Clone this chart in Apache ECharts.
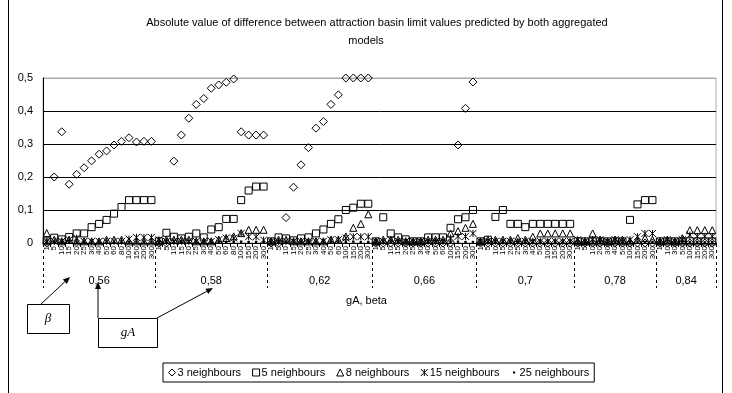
<!DOCTYPE html>
<html><head><meta charset="utf-8">
<script src="https://cdn.jsdelivr.net/npm/echarts@6/dist/echarts.min.js"></script>
<style>
html,body{margin:0;padding:0;background:#fff;}
#frame{position:absolute;left:8px;top:-2px;width:715px;height:400px;border-left:1px solid #000;border-right:1px solid #000;box-sizing:border-box;}
#chart{position:absolute;left:0;top:0;width:732px;height:393px;}
</style></head><body>
<div id="frame"></div><div id="chart"></div>
<script>
// ---- data ----
const groupLabels = ['0,56', '0,58', '0,62', '0,66', '0,7', '0,78', '0,84'];
const beta056 = ['1','5','10','15','20','25','30','40','50','60','80','100','150','200','300'];
const beta058 = ['1','5','10','15','20','25','30','40','50','60','80','100','150','200','300'];
const beta062 = ['1','5','10','15','20','25','30','40','50','60','100','150','200','300'];
const beta066 = ['1','5','10','15','20','25','30','40','50','60','100','150','200','300'];
const beta070 = ['1','5','10','15','20','25','30','40','50','100','150','200','300'];
const beta078 = ['1','5','10','20','30','40','50','100','150','200','300'];
const beta084 = ['1','10','30','50','100','150','200','300'];
const betaByGroup = [beta056, beta058, beta062, beta066, beta070, beta078, beta084];

const neighbours3 = [
  0, 0.20, 0.337, 0.178, 0.208, 0.228, 0.249, 0.269, 0.279, 0.297, 0.308, 0.319, 0.306, 0.308, 0.308,
  0, 0, 0.248, 0.327, 0.378, 0.42, 0.438, 0.469, 0.479, 0.487, 0.497, 0.337, 0.327, 0.327, 0.327,
  0, 0, 0.077, 0.169, 0.237, 0.289, 0.348, 0.368, 0.42, 0.449, 0.5, 0.5, 0.5, 0.5,
  0, 0, 0, 0, 0, 0, 0, 0, 0, 0, 0, 0.297, 0.408, 0.488,
  0, 0, 0, 0, 0, 0, 0, 0, 0, 0, 0, 0, 0,
  0, 0, 0, 0, 0, 0, 0, 0, 0, 0, 0,
  0, 0, 0, 0, 0, 0, 0, 0
];
const neighbours5 = [
  0.005, 0.016, 0.011, 0.018, 0.029, 0.029, 0.048, 0.058, 0.07, 0.089, 0.109, 0.13, 0.13, 0.13, 0.13,
  0.005, 0.031, 0.019, 0.014, 0.019, 0.029, 0.017, 0.041, 0.048, 0.073, 0.073, 0.13, 0.159, 0.171, 0.171,
  0.005, 0.017, 0.014, 0.008, 0.014, 0.017, 0.029, 0.041, 0.058, 0.072, 0.1, 0.107, 0.119, 0.119,
  0.005, 0.078, 0.029, 0.017, 0.011, 0.005, 0.005, 0.017, 0.017, 0.017, 0.046, 0.072, 0.078, 0.1,
  0.005, 0.01, 0.079, 0.1, 0.058, 0.058, 0.048, 0.058, 0.058, 0.058, 0.058, 0.058, 0.058,
  0.005, 0.005, 0.005, 0.005, 0.005, 0.005, 0.005, 0.07, 0.117, 0.13, 0.13,
  0.005, 0.005, 0.005, 0.005, 0.005, 0.005, 0.005, 0.005
];
const neighbours8 = [
  0.03, 0.01, 0.005, 0.01, 0.005, 0.005, 0.005, 0.005, 0.01, 0.01, 0.01, 0.005, 0.005, 0.005, 0.005,
  0.005, 0.01, 0.01, 0.01, 0.01, 0.005, 0.005, 0.005, 0.01, 0.015, 0.02, 0.03, 0.04, 0.04, 0.04,
  0.005, 0.01, 0.01, 0.005, 0.005, 0.005, 0.005, 0.005, 0.01, 0.01, 0.02, 0.046, 0.058, 0.087,
  0.005, 0.01, 0.01, 0.01, 0.005, 0.005, 0.005, 0.01, 0.01, 0.01, 0.029, 0.036, 0.046, 0.058,
  0.005, 0.01, 0.01, 0.01, 0.01, 0.015, 0.01, 0.019, 0.029, 0.029, 0.029, 0.029, 0.029,
  0.005, 0.005, 0.029, 0.01, 0.005, 0.01, 0.01, 0.005, 0.01, 0.015, 0.01,
  0.005, 0.01, 0.005, 0.015, 0.039, 0.039, 0.039, 0.039
];
const neighbours15 = [
  0.005, 0.005, 0.005, 0.01, 0.015, 0.005, 0.005, 0.005, 0.005, 0.005, 0.005, 0.012, 0.017, 0.017, 0.017,
  0.01, 0.005, 0.005, 0.005, 0.005, 0.005, 0.005, 0.005, 0.01, 0.015, 0.015, 0.029, 0.019, 0.019, 0.009,
  0.005, 0.005, 0.005, 0.005, 0.005, 0.005, 0.005, 0.005, 0.01, 0.01, 0.015, 0.019, 0.019, 0.019,
  0.005, 0.005, 0.01, 0.005, 0.005, 0.005, 0.005, 0.005, 0.005, 0.005, 0.015, 0.02, 0.02, 0.029,
  0.005, 0.005, 0.005, 0.005, 0.005, 0.005, 0.005, 0.005, 0.005, 0.005, 0.005, 0.005, 0.005,
  0.01, 0.005, 0.01, 0.01, 0.005, 0.01, 0.005, 0.01, 0.019, 0.029, 0.029,
  0.005, 0.01, 0.005, 0.01, 0.024, 0.02, 0.02, 0.02
];
const neighbours25 = [
  0.004, 0.003, 0.003, 0.002, 0.003, 0.003, 0.002, 0.003, 0.003, 0.003, 0.002, 0.003, 0.003, 0.004, 0.003,
  0.003, 0.003, 0.002, 0.003, 0.003, 0.002, 0.003, 0.003, 0.003, 0.002, 0.003, 0.004, 0.003, 0.003, 0.003,
  0.003, 0.002, 0.003, 0.003, 0.003, 0.002, 0.003, 0.003, 0.003, 0.002, 0.003, 0.004, 0.003, 0.003,
  0.003, 0.003, 0.002, 0.003, 0.003, 0.002, 0.003, 0.003, 0.003, 0.002, 0.003, 0.004, 0.003, 0.003,
  0.003, 0.002, 0.003, 0.003, 0.003, 0.002, 0.003, 0.003, 0.003, 0.002, 0.003, 0.003, 0.003,
  0.003, 0.003, 0.002, 0.003, 0.003, 0.002, 0.003, 0.003, 0.004, 0.003, 0.003,
  0.003, 0.002, 0.003, 0.003, 0.003, 0.003, 0.002, 0.003
];
const seriesNames = ['3 neighbours', '5 neighbours', '8 neighbours', '15 neighbours', '25 neighbours'];

// ---- category structures built from the arrays ----
const cats = [];
const halfCats = [];
const boundarySet = new Set();
const centerLabel = {};
let start = 0;
betaByGroup.forEach((list, gi) => {
  list.forEach(b => cats.push(gi + '_' + b));
  boundarySet.add(2 * start);
  centerLabel[2 * start + list.length] = groupLabels[gi];
  start += list.length;
});
boundarySet.add(2 * start);
for (let i = 0; i <= 2 * start; i++) halfCats.push(String(i));

const FONT = 'Liberation Sans';
const BLK = '#000';
const HOLLOW = 'rgba(0,0,0,0)';

function scatter(name, data, symbol, size, fill, bw) {
  return {
    type: 'scatter', name, data, symbol, symbolSize: size,
    xAxisIndex: 0, yAxisIndex: 0, silent: true, animation: false,
    itemStyle: { color: fill, borderColor: BLK, borderWidth: bw, opacity: 1 },
    emphasis: { disabled: true }
  };
}

// annotation arrows
const arrowLines = [[41, 304, 70, 277], [98, 318, 98, 282], [157, 318, 213, 288]];
const graphics = [];
arrowLines.forEach(([x1, y1, x2, y2]) => {
  const a = Math.atan2(y2 - y1, x2 - x1), L = 7, W = 3;
  const bx = x2 - L * Math.cos(a), by = y2 - L * Math.sin(a);
  graphics.push({ type: 'line', shape: { x1, y1, x2: bx, y2: by }, style: { stroke: BLK, lineWidth: 1 } });
  graphics.push({ type: 'polygon', shape: { points: [[x2, y2], [bx + W * Math.sin(a), by - W * Math.cos(a)], [bx - W * Math.sin(a), by + W * Math.cos(a)]] }, style: { fill: BLK } });
});
graphics.push({ type: 'rect', shape: { x: 27.5, y: 304.5, width: 42, height: 29 }, style: { fill: '#fff', stroke: BLK, lineWidth: 1 } });
graphics.push({ type: 'text', x: 48, y: 319, style: { text: 'β', font: 'italic 13px "Liberation Serif"', fill: BLK, align: 'center', verticalAlign: 'middle' } });
graphics.push({ type: 'rect', shape: { x: 98.5, y: 318.5, width: 59, height: 29 }, style: { fill: '#fff', stroke: BLK, lineWidth: 1 } });
graphics.push({ type: 'text', x: 128, y: 333, style: { text: 'gA', font: 'italic 13px "Liberation Serif"', fill: BLK, align: 'center', verticalAlign: 'middle' } });

const dotPath = 'path://M0,0 M10,10 M3.5,3.5 L6.5,3.5 L6.5,6.5 L3.5,6.5 Z';
const starPath = 'path://M0,0 L10,10 M10,0 L0,10 M5,0 L5,10';
const legendStyle = { color: HOLLOW, borderColor: BLK, borderWidth: 1 };

const chart = echarts.init(document.getElementById('chart'), null, { renderer: 'canvas' });
chart.setOption({
  animation: false,
  backgroundColor: 'transparent',
  textStyle: { fontFamily: FONT, color: BLK },
  title: [
    { text: 'Absolute value of difference between attraction basin limit values predicted by both aggregated', left: 377, top: 17, textAlign: 'center', padding: 0,
      textStyle: { fontFamily: FONT, fontSize: 11, fontWeight: 'normal', color: BLK } },
    { text: 'models', left: 366, top: 35, textAlign: 'center', padding: 0,
      textStyle: { fontFamily: FONT, fontSize: 11, fontWeight: 'normal', color: BLK } }
  ],
  legend: {
    left: 163, top: 363, orient: 'horizontal', itemWidth: 7, itemHeight: 7, itemGap: 11,
    padding: [4, 5], borderColor: BLK, borderWidth: 1, borderRadius: 0, selectedMode: false,
    textStyle: { fontFamily: FONT, fontSize: 11, color: BLK, padding: [0, 0, 0, -3] },
    data: [
      { name: seriesNames[0], itemStyle: legendStyle },
      { name: seriesNames[1], itemStyle: legendStyle },
      { name: seriesNames[2], itemStyle: legendStyle },
      { name: seriesNames[3], itemStyle: legendStyle },
      { name: seriesNames[4], itemStyle: { color: BLK, borderWidth: 0 } }
    ]
  },
  grid: [
    { left: 43, right: 16, top: 78, height: 165, show: true, borderColor: '#aaa', borderWidth: 1, containLabel: false },
    { left: 43, right: 16, top: 250, height: 38, show: false, containLabel: false }
  ],
  xAxis: [
    { gridIndex: 0, type: 'category', data: cats, boundaryGap: true,
      axisLine: { show: true, lineStyle: { color: BLK, width: 1 } },
      axisTick: { show: true, interval: 0, length: 4, lineStyle: { color: BLK } },
      axisLabel: { show: true, interval: 0, rotate: 90, fontSize: 8, fontFamily: FONT, color: BLK, margin: 3,
        hideOverlap: false, formatter: v => v.split('_')[1] },
      splitLine: { show: false } },
    { gridIndex: 1, type: 'category', data: halfCats, boundaryGap: false,
      axisLine: { show: false }, axisTick: { show: false },
      axisLabel: { show: true, interval: 0, inside: true, margin: 2, fontSize: 11, fontFamily: FONT, color: BLK,
        formatter: (v, i) => centerLabel[i] || '' },
      splitLine: { show: true, interval: (i) => boundarySet.has(i), lineStyle: { color: BLK, width: 1, type: [3, 3] } },
      name: 'gA, beta', nameLocation: 'middle', nameGap: 7,
      nameTextStyle: { fontFamily: FONT, fontSize: 11, color: BLK, padding: [0, 26, 0, 0] } }
  ],
  yAxis: [
    { gridIndex: 0, type: 'value', min: 0, max: 0.5, interval: 0.1,
      axisLine: { show: true, lineStyle: { color: BLK, width: 1 } },
      axisTick: { show: false },
      splitLine: { show: true, lineStyle: { color: [BLK, BLK, BLK, BLK, BLK, '#aaa'], width: 1 } },
      axisLabel: { color: BLK, fontFamily: FONT, fontSize: 11, margin: 10,
        formatter: v => String(Math.round(v * 10) / 10).replace('.', ',') } },
    { gridIndex: 1, type: 'value', show: false }
  ],
  series: [
    scatter(seriesNames[0], neighbours3, 'diamond', 8, HOLLOW, 1),
    scatter(seriesNames[1], neighbours5, 'rect', 7, HOLLOW, 1),
    scatter(seriesNames[2], neighbours8, 'triangle', [7, 7], HOLLOW, 1),
    scatter(seriesNames[3], neighbours15, starPath, 7, HOLLOW, 1),
    scatter(seriesNames[4], neighbours25, dotPath, 8, BLK, 0)
  ],
  graphic: graphics
});
</script></body></html>
